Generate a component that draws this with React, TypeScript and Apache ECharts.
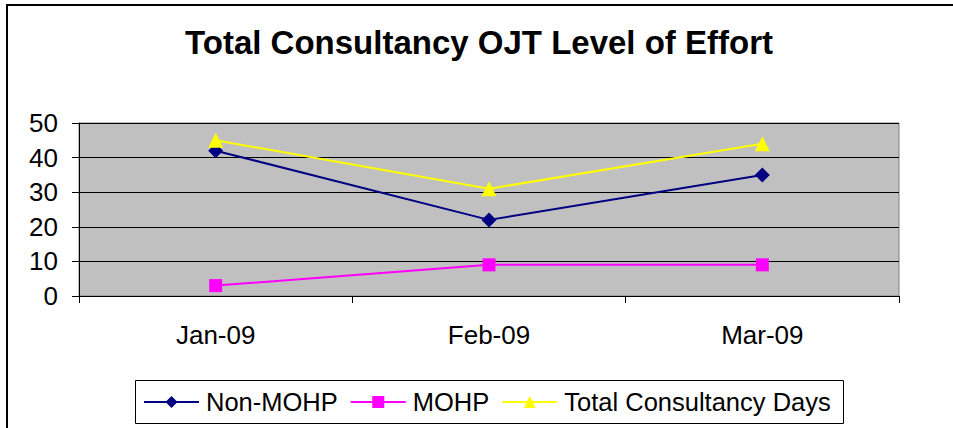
import React, { useEffect, useRef } from "react";
import * as echarts from "echarts";

const categories = ["Jan-09", "Feb-09", "Mar-09"];
const nonMohp = [42, 22, 35];
const mohp = [3, 9, 9];
const totalDays = [45, 31, 44];
const yTicks = { min: 0, max: 50, interval: 10 };

const FONT = "'Liberation Sans', Arial, sans-serif";

export default function App() {
  const ref = useRef<HTMLDivElement>(null);
  useEffect(() => {
    document.body.style.margin = "0";
    if (!ref.current) return;
    const chart = echarts.init(ref.current, undefined, { renderer: "svg" });
    chart.setOption({
      animation: false,
      backgroundColor: "#FFFFFF",
      title: {
        text: "Total Consultancy OJT Level of Effort",
        left: 474,
        textAlign: "center",
        top: 21,
        textStyle: { fontFamily: FONT, fontSize: 33, fontWeight: "bold", color: "#000" },
      },
      graphic: [
        {
          type: "rect",
          z: -10,
          shape: { x: 7, y: 5, width: 1000, height: 1000 },
          style: { fill: "#FFFFFF", stroke: "#000000", lineWidth: 2 },
          silent: true,
        },
        {
          type: "rect",
          z: 0,
          shape: { x: 135.5, y: 380.5, width: 708, height: 43 },
          style: { fill: "#FFFFFF", stroke: "#000000", lineWidth: 1 },
          silent: true,
        },
      ],
      legend: {
        left: 143,
        top: 389,
        padding: 0,
        itemGap: 12,
        itemWidth: 55,
        itemHeight: 15,
        z: 5,
        textStyle: { fontFamily: FONT, fontSize: 25.5, color: "#000", padding: [0, 0, 0, 2] },
        data: ["Non-MOHP", "MOHP", "Total Consultancy Days"],
      },
      grid: {
        left: 79,
        right: 54,
        top: 123,
        bottom: 132,
        show: true,
        backgroundColor: "#C0C0C0",
        borderColor: "#808080",
        borderWidth: 1,
      },
      xAxis: {
        type: "category",
        data: categories,
        boundaryGap: true,
        axisLine: { lineStyle: { color: "#000", width: 1 } },
        axisTick: { show: true, length: 7, lineStyle: { color: "#000" } },
        axisLabel: { fontFamily: FONT, fontSize: 26, color: "#000", margin: 26 },
      },
      yAxis: {
        type: "value",
        min: yTicks.min,
        max: yTicks.max,
        interval: yTicks.interval,
        axisLine: { show: true, lineStyle: { color: "#000", width: 1 } },
        axisTick: { show: true, length: 7, lineStyle: { color: "#000" } },
        axisLabel: { fontFamily: FONT, fontSize: 26, color: "#000", margin: 21 },
        splitLine: { show: true, lineStyle: { color: "#000", width: 1 } },
      },
      series: [
        {
          name: "Non-MOHP",
          type: "line",
          data: nonMohp,
          symbol: "diamond",
          symbolSize: 15,
          lineStyle: { color: "#000080", width: 2 },
          itemStyle: { color: "#000080" },
          z: 3,
        },
        {
          name: "MOHP",
          type: "line",
          data: mohp,
          symbol: "rect",
          symbolSize: 13,
          lineStyle: { color: "#FF00FF", width: 2 },
          itemStyle: { color: "#FF00FF" },
          z: 3,
        },
        {
          name: "Total Consultancy Days",
          type: "line",
          data: totalDays,
          symbol: "triangle",
          symbolSize: 15,
          lineStyle: { color: "#FFFF00", width: 2 },
          itemStyle: { color: "#FFFF00" },
          z: 3,
        },
      ],
    });
    return () => chart.dispose();
  }, []);
  return <div ref={ref} style={{ width: 953, height: 428 }} />;
}
